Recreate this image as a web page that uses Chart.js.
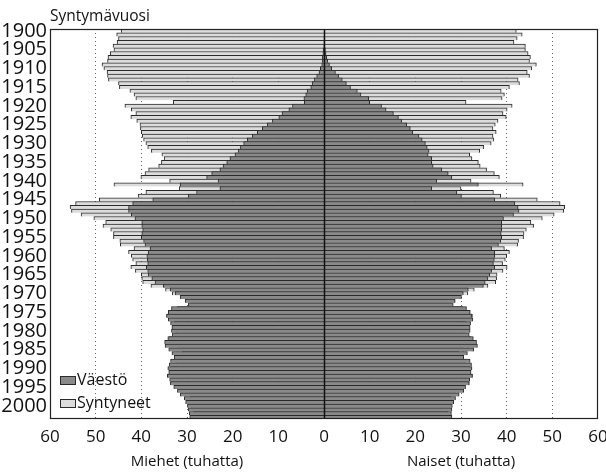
<!DOCTYPE html>
<html lang="fi">
<head>
<meta charset="utf-8">
<title>Syntymävuosi</title>
<script src="https://cdn.jsdelivr.net/npm/chart.js@4.4.1/dist/chart.umd.min.js"></script>
<style>
  html, body { margin: 0; padding: 0; background: #fff; }
  #wrap { position: relative; width: 606px; height: 476px; }
  #ytitle {
    position: absolute; left: 50px; top: 4px;
    font: 15.5px 'Open Sans', 'DejaVu Sans', sans-serif;
    line-height: 22px; color: #111; white-space: nowrap;
  }
</style>
</head>
<body>
<div id="wrap">
  <canvas id="pyramid" width="606" height="476"></canvas>
  <div id="ytitle">Syntymävuosi</div>
</div>
<script>
// Birth years 1900-2003, values in thousands
const firstYear = 1900;

// Syntyneet (births), men and women
const maleBirths = [
  44.4, 45.4, 45.0, 45.3, 46.2, 46.0, 46.8, 47.3, 47.4, 48.6,
  48.2, 47.5, 47.4, 47.2, 45.0, 44.8, 42.5, 41.6, 41.2, 33.0,
  43.6, 42.2, 41.2, 42.3, 41.0, 40.3, 40.2, 40.0, 39.8, 39.5,
  39.0, 38.6, 37.8, 35.5, 35.0, 35.6, 36.2, 38.4, 39.2, 40.1,
  33.8, 46.0, 31.7, 39.0, 40.7, 49.2, 54.4, 55.6, 55.3, 53.2,
  50.4, 47.8, 48.4, 46.7, 46.1, 46.1, 44.7, 44.6, 41.6, 42.8,
  42.2, 41.9, 41.2, 42.3, 41.3, 40.0, 39.9, 39.7, 37.9, 34.7,
  33.2, 31.4, 30.3, 29.2, 32.1, 33.7, 34.3, 33.7, 32.8, 32.6,
  32.4, 32.6, 33.9, 34.3, 33.4, 32.2, 31.1, 30.7, 32.5, 32.5,
  33.6, 33.6, 34.2, 33.3, 33.5, 32.4, 31.2, 30.4, 29.3, 29.6,
  29.1, 28.8, 28.5, 29.0
];
const femaleBirths = [
  42.1, 43.4, 42.3, 41.6, 44.1, 44.1, 44.7, 45.2, 45.0, 46.5,
  45.5, 44.5, 45.0, 42.5, 42.8, 40.6, 38.8, 39.5, 39.0, 31.1,
  41.2, 40.1, 39.2, 39.9, 38.1, 37.5, 37.0, 37.7, 37.0, 37.2,
  36.6, 35.0, 34.1, 31.9, 32.4, 33.8, 34.2, 35.6, 37.3, 38.4,
  32.2, 43.6, 30.0, 37.1, 38.7, 46.7, 51.7, 52.7, 52.5, 50.4,
  47.8, 45.3, 45.9, 44.3, 43.8, 43.7, 42.6, 42.4, 39.5, 40.6,
  40.0, 39.7, 39.1, 40.1, 39.2, 37.9, 37.8, 37.6, 35.9, 32.9,
  31.5, 29.8, 28.7, 27.7, 30.4, 32.0, 32.5, 32.0, 31.2, 30.9,
  30.7, 30.9, 32.2, 32.6, 31.7, 30.6, 29.5, 29.1, 30.8, 30.8,
  31.9, 31.8, 32.5, 31.6, 31.8, 30.7, 29.6, 28.9, 27.8, 28.0,
  27.6, 27.4, 27.1, 27.6
];

// Väestö (population by birth year), men and women
const malePop = [
  0.0, 0.0, 0.02, 0.04, 0.06, 0.2, 0.25, 0.35, 0.4, 0.5,
  0.8, 1.1, 1.6, 2.1, 2.6, 2.9, 3.7, 4.0, 4.4, 4.3,
  6.9, 7.7, 9.2, 9.9, 11.3, 12.4, 13.5, 14.6, 15.7, 16.8,
  17.6, 18.3, 18.8, 19.5, 20.6, 21.3, 22.1, 22.8, 24.6, 25.7,
  23.2, 31.5, 22.8, 27.9, 29.7, 37.5, 41.9, 42.8, 42.8, 42.2,
  41.4, 39.9, 39.9, 39.7, 39.9, 40.0, 39.5, 39.2, 38.1, 38.5,
  38.8, 38.7, 38.6, 38.9, 38.6, 38.5, 37.7, 37.0, 35.2, 33.7,
  32.6, 31.5, 30.4, 29.7, 33.4, 34.1, 34.5, 34.1, 33.6, 33.3,
  33.4, 33.2, 34.2, 34.9, 34.8, 34.0, 33.3, 32.8, 33.6, 33.9,
  34.2, 34.0, 34.3, 33.8, 33.7, 32.9, 32.1, 31.5, 30.6, 30.3,
  29.9, 29.7, 29.5, 29.4
];
const femalePop = [
  0.0, 0.02, 0.05, 0.1, 0.18, 0.3, 0.45, 0.6, 0.8, 1.2,
  1.7, 2.5, 3.2, 4.0, 4.9, 5.8, 7.3, 8.1, 9.8, 10.0,
  12.6, 13.6, 15.2, 16.3, 17.0, 18.1, 18.9, 19.4, 20.8, 21.5,
  22.2, 22.6, 23.0, 22.8, 23.6, 23.6, 23.9, 25.8, 27.2, 28.0,
  24.7, 33.8, 23.6, 29.1, 30.1, 37.4, 41.8, 42.5, 42.7, 41.5,
  39.3, 38.9, 38.9, 38.9, 38.8, 38.9, 38.7, 38.2, 36.7, 37.4,
  37.4, 37.3, 37.1, 37.4, 36.7, 36.3, 35.9, 35.3, 34.9, 31.6,
  30.5, 30.1, 28.7, 28.3, 31.2, 32.0, 32.4, 32.6, 32.1, 32.0,
  32.0, 31.8, 32.7, 33.4, 33.6, 32.8, 31.4, 30.6, 32.0, 32.3,
  32.4, 32.2, 32.5, 31.9, 31.8, 31.0, 30.6, 29.6, 28.8, 28.4,
  28.1, 28.0, 27.9, 28.0
];

const years = maleBirths.map((_, i) => firstYear + i);
const labelStep = 5; // every fifth year gets a tick label
const xTicks = { min: -60, max: 60, step: 10 };

const FONT = "'Open Sans', 'DejaVu Sans', sans-serif";
const POP_FILL = '#8a8a8a';
const BIRTH_FILL = '#dcdcdc';
const EDGE = '#2a2a2a';
Chart.defaults.font.family = FONT;
Chart.defaults.color = '#111';

// frame, zero line, legend and axis titles
const decorations = {
  id: 'decorations',
  afterDatasetsDraw(chart) {
    const { ctx, chartArea: a, scales: { x } } = chart;
    ctx.save();

    const x0 = Math.round(x.getPixelForValue(0)) + 0.5;
    ctx.strokeStyle = '#111';
    ctx.lineWidth = 1.5;
    ctx.beginPath();
    ctx.moveTo(x0, a.top);
    ctx.lineTo(x0, a.bottom);
    ctx.stroke();

    ctx.lineWidth = 1.2;
    ctx.strokeStyle = '#222';
    ctx.strokeRect(a.left + 0.5, a.top + 0.5, a.width - 1, a.height - 1);

    // legend, bottom left inside the plot
    const items = [
      { text: 'Väestö', fill: POP_FILL },
      { text: 'Syntyneet', fill: BIRTH_FILL }
    ];
    ctx.font = '16px ' + FONT;
    ctx.textBaseline = 'middle';
    items.forEach((it, i) => {
      const by = a.bottom - 43 + i * 23;
      ctx.fillStyle = it.fill;
      ctx.fillRect(a.left + 10, by, 16, 9);
      ctx.lineWidth = 1;
      ctx.strokeStyle = EDGE;
      ctx.strokeRect(a.left + 10.5, by + 0.5, 15, 8);
      ctx.fillStyle = '#111';
      ctx.textAlign = 'left';
      ctx.fillText(it.text, a.left + 27, by + 4);
    });

    // axis titles under each half
    ctx.font = '15px ' + FONT;
    ctx.textAlign = 'center';
    ctx.fillText('Miehet (tuhatta)', x.getPixelForValue(-30), 462);
    ctx.fillText('Naiset (tuhatta)', x.getPixelForValue(30), 462);
    ctx.restore();
  }
};

const ctx = document.getElementById('pyramid').getContext('2d');

new Chart(ctx, {
  type: 'bar',
  data: {
    labels: years,
    datasets: [
      {
        label: 'Väestö',
        data: malePop.map((m, i) => [-m, femalePop[i]]),
        backgroundColor: POP_FILL,
        borderColor: EDGE,
        borderWidth: { top: 1, bottom: 0, left: 1, right: 1 },
        borderSkipped: false,
        grouped: false,
        categoryPercentage: 1,
        barPercentage: 1,
        order: 0
      },
      {
        label: 'Syntyneet',
        data: maleBirths.map((m, i) => [-m, femaleBirths[i]]),
        backgroundColor: BIRTH_FILL,
        borderColor: EDGE,
        borderWidth: { top: 1, bottom: 0, left: 1, right: 1 },
        borderSkipped: false,
        grouped: false,
        categoryPercentage: 1,
        barPercentage: 1,
        order: 1
      }
    ]
  },
  options: {
    indexAxis: 'y',
    responsive: false,
    animation: false,
    layout: { padding: { top: 29, right: 8, left: 0, bottom: 0 } },
    plugins: {
      legend: { display: false },
      tooltip: { enabled: false }
    },
    scales: {
      x: {
        type: 'linear',
        min: xTicks.min,
        max: xTicks.max,
        ticks: {
          stepSize: xTicks.step,
          callback: v => Math.abs(v),
          font: { size: 17 },
          color: '#111',
          padding: 8
        },
        grid: {
          drawTicks: false,
          lineWidth: 1,
          color: c => {
            const v = c.tick ? c.tick.value : 0;
            return (v === 0 || Math.abs(v) === 60) ? 'rgba(0,0,0,0)' : '#666';
          }
        },
        border: { display: false, dash: [1, 3] },
        afterFit(s) {
          s.height = 57;
          s.paddingLeft = 0;
          s.paddingRight = 0;
        }
      },
      y: {
        type: 'category',
        grid: { display: false, drawTicks: false },
        border: { display: false },
        ticks: {
          autoSkip: false,
          font: { size: 20 },
          color: '#111',
          padding: 3,
          callback: (val, i) => (years[i] % labelStep === 0 ? String(years[i]) : '')
        },
        afterFit(s) {
          s.width = 50;
          s.paddingTop = 0;
          s.paddingBottom = 0;
        }
      }
    }
  },
  plugins: [decorations]
});
</script>
</body>
</html>
